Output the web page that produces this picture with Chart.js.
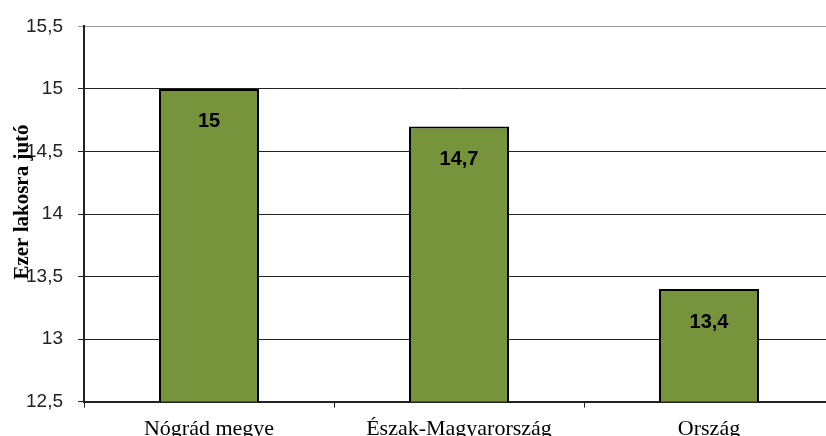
<!DOCTYPE html>
<html>
<head>
<meta charset="utf-8">
<script src="https://cdn.jsdelivr.net/npm/chart.js@4"></script>
<style>
html,body{margin:0;padding:0;background:#fff;overflow:hidden;width:826px;height:436px;}
#wrap{width:840px;height:450px;}
</style>
</head>
<body>
<div id="wrap"><canvas id="c" width="840" height="450"></canvas></div>
<script>
const categories = ["Nógrád megye", "Észak-Magyarország", "Ország"];
const values = [15, 14.7, 13.4];
const yTitle = "Ezer lakosra jutó";
const yMin = 12.5, yMax = 15.5, yStep = 0.5;

const fmt = v => String(v).replace('.', ',');

const labelPlugin = {
  id: 'labels',
  afterDatasetsDraw(chart) {
    const ctx = chart.ctx;
    const meta = chart.getDatasetMeta(0);
    ctx.save();
    ctx.fillStyle = '#000';
    ctx.font = 'bold 20px "Liberation Sans", Arial, sans-serif';
    ctx.textAlign = 'center';
    ctx.textBaseline = 'middle';
    meta.data.forEach((bar, i) => {
      ctx.fillText(fmt(values[i]), bar.x, bar.y + 33);
    });
    ctx.restore();
  },
  afterDraw(chart) {
    const ctx = chart.ctx;
    ctx.save();
    ctx.translate(23, 202);
    ctx.rotate(-Math.PI / 2);
    ctx.fillStyle = '#000';
    ctx.font = 'bold 21px "Liberation Serif", "Times New Roman", serif';
    ctx.textAlign = 'center';
    ctx.textBaseline = 'middle';
    ctx.fillText(yTitle, 0, 0);
    ctx.restore();
  }
};

new Chart(document.getElementById('c'), {
  type: 'bar',
  data: {
    labels: categories,
    datasets: [{
      data: values,
      backgroundColor: '#77933C',
      borderColor: '#000',
      borderWidth: 2,
      borderSkipped: false,
      barPercentage: 0.4,
      categoryPercentage: 1
    }]
  },
  options: {
    responsive: false,
    animation: false,
    layout: { padding: { top: 25, right: 6, left: 0, bottom: 0 } },
    plugins: { legend: { display: false }, tooltip: { enabled: false } },
    scales: {
      x: {
        offset: true,
        grid: { display: true, drawOnChartArea: false, offset: true, tickLength: 6, color: '#222', lineWidth: 1 },
        border: { display: true, color: '#222', width: 2 },
        ticks: { color: '#000', padding: 8, font: { family: '"Liberation Serif", "Times New Roman", serif', size: 22 } }
      },
      y: {
        min: yMin, max: yMax,
        afterFit(scale) { scale.width = 84; },
        grid: {
          color: c => (c.tick && c.tick.value === yMax) ? '#999' : '#222',
          lineWidth: 1, tickLength: 6
        },
        border: { display: true, color: '#222', width: 2 },
        ticks: {
          stepSize: yStep, padding: 15, color: '#222',
          font: { family: '"Liberation Sans", Arial, sans-serif', size: 19 },
          callback: v => fmt(v)
        }
      }
    }
  },
  plugins: [labelPlugin]
});
</script>
</body>
</html>
